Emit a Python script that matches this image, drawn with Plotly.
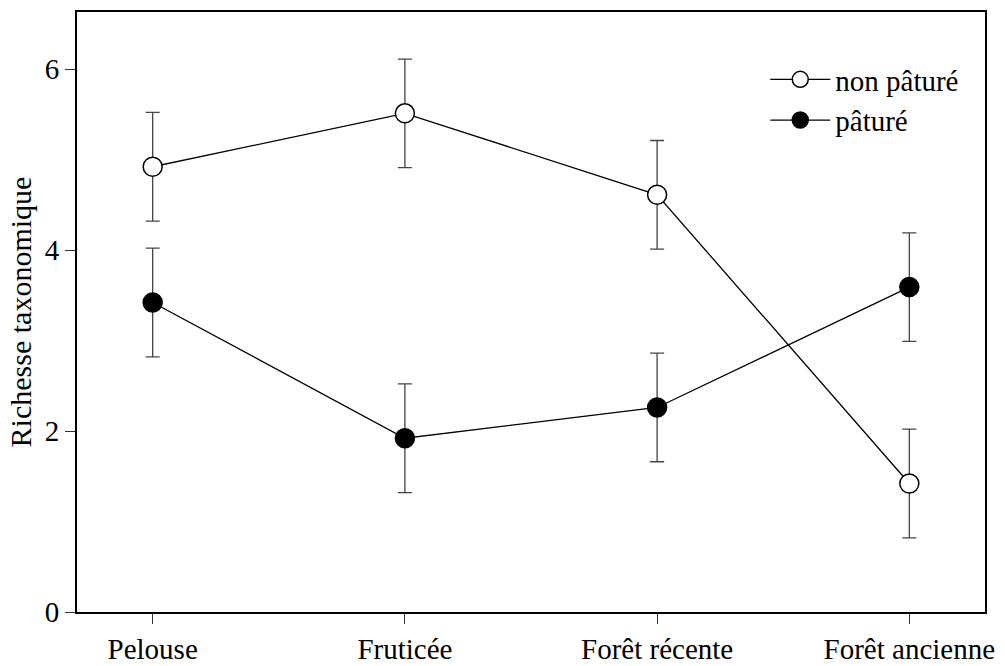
import plotly.graph_objects as go

# --- data ---
habitats = ["Pelouse", "Fruticée", "Forêt récente", "Forêt ancienne"]
non_pature = [4.92, 5.51, 4.61, 1.42]
non_pature_err = [0.6, 0.6, 0.6, 0.6]
pature = [3.42, 1.92, 2.26, 3.59]
pature_err = [0.6, 0.6, 0.6, 0.6]
y_ticks = [0, 2, 4, 6]

FONT = "Liberation Serif, Times New Roman, serif"
xpos = list(range(len(habitats)))

fig = go.Figure()

fig.add_trace(go.Scatter(
    x=xpos, y=non_pature, name="non pâturé",
    mode="lines+markers",
    line=dict(color="black", width=1.3),
    marker=dict(size=19, color="white", line=dict(color="black", width=1.5)),
    error_y=dict(type="data", array=non_pature_err, color="#444444", thickness=1.3, width=7),
))

fig.add_trace(go.Scatter(
    x=xpos, y=pature, name="pâturé",
    mode="lines+markers",
    line=dict(color="black", width=1.3),
    marker=dict(size=19, color="black", line=dict(color="black", width=1.5)),
    error_y=dict(type="data", array=pature_err, color="#444444", thickness=1.3, width=7),
))

fig.update_layout(
    width=1005, height=666,
    margin=dict(l=77, r=20, t=12, b=54, autoexpand=False),
    plot_bgcolor="white",
    paper_bgcolor="white",
    font=dict(family=FONT, size=29, color="black"),
    legend=dict(
        x=0.758, y=0.93, xanchor="left", yanchor="top",
        bgcolor="rgba(0,0,0,0)", font=dict(size=29),
        tracegroupgap=0, itemwidth=60,
    ),
    showlegend=True,
)

fig.update_xaxes(
    range=[-0.3, 3.3], automargin=False,
    tickvals=xpos, ticktext=habitats,
    showgrid=False, zeroline=False,
    showline=True, linecolor="black", linewidth=2, mirror=True,
    ticks="outside", ticklen=10, tickwidth=1, tickcolor="#333333",
)
fig.update_yaxes(
    range=[0, 6.63], automargin=False,
    tickvals=y_ticks,
    title_text="Richesse taxonomique", title_standoff=4,
    title_font=dict(size=30),
    showgrid=False, zeroline=False,
    showline=True, linecolor="black", linewidth=2, mirror=True,
    ticks="outside", ticklen=10, tickwidth=1, tickcolor="#333333",
)

# drop the browser's default body margin so the figure sits at the page corner
fig.write_html(
    "out.html",
    config={"displayModeBar": False},
    post_script="document.body.style.margin='0';",
)
